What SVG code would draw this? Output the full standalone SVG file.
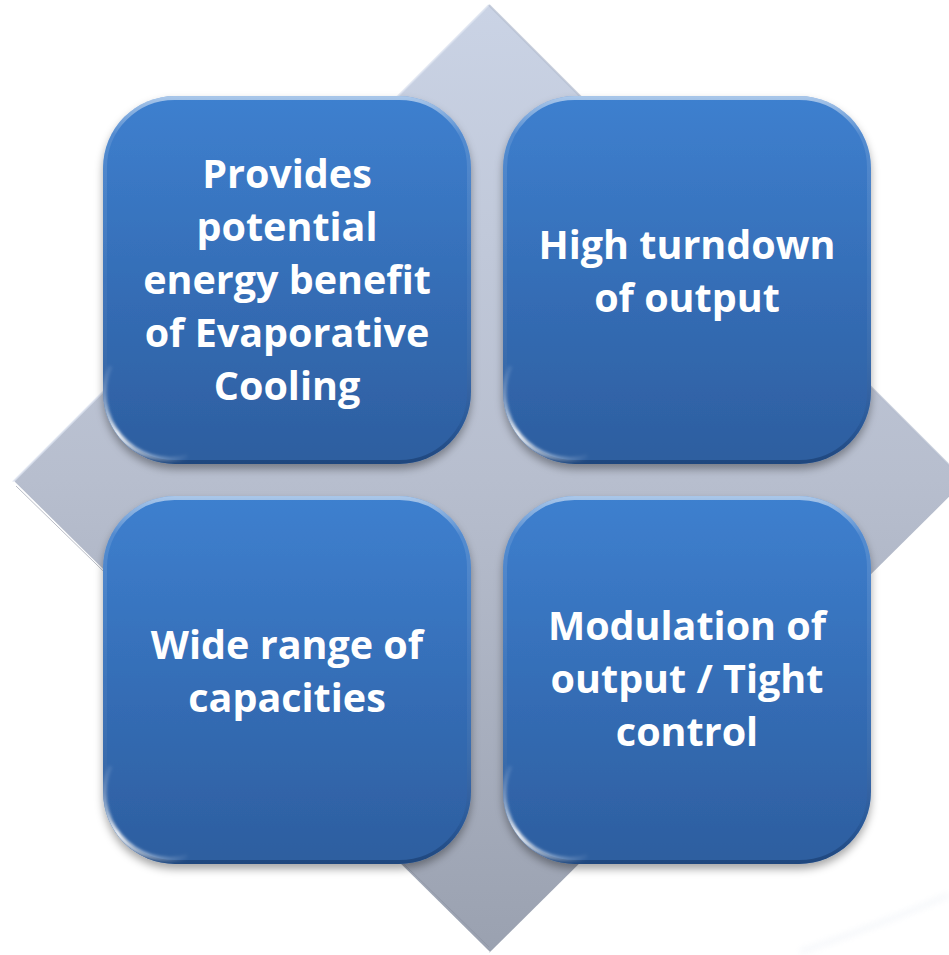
<svg xmlns="http://www.w3.org/2000/svg" xmlns:xlink="http://www.w3.org/1999/xlink" width="949" height="955" viewBox="0 0 949 955">
  <defs>
    <linearGradient id="diamondFill" x1="0" y1="0" x2="0" y2="1">
      <stop offset="0" stop-color="#cad3e5"/>
      <stop offset="0.5" stop-color="#b7bece"/>
      <stop offset="1" stop-color="#9aa1b0"/>
    </linearGradient>
    <linearGradient id="tileFill" x1="0" y1="0" x2="0" y2="1">
      <stop offset="0" stop-color="#3e80cf"/>
      <stop offset="0.5" stop-color="#356eb7"/>
      <stop offset="1" stop-color="#2d5e9f"/>
    </linearGradient>
    <linearGradient id="rimFill" x1="0" y1="0" x2="0" y2="1">
      <stop offset="0" stop-color="#ffffff" stop-opacity="0.55"/>
      <stop offset="0.1" stop-color="#ffffff" stop-opacity="0.12"/>
      <stop offset="0.5" stop-color="#ffffff" stop-opacity="0.05"/>
      <stop offset="0.9" stop-color="#0d2a55" stop-opacity="0.15"/>
      <stop offset="1" stop-color="#0d2a55" stop-opacity="0.45"/>
    </linearGradient>
    <linearGradient id="glareFill" x1="0" y1="0" x2="1" y2="1">
      <stop offset="0" stop-color="#ffffff" stop-opacity="0"/>
      <stop offset="0.45" stop-color="#ffffff" stop-opacity="0.95"/>
      <stop offset="1" stop-color="#ffffff" stop-opacity="0"/>
    </linearGradient>
    <filter id="tileShadow" x="-10%" y="-10%" width="120%" height="125%">
      <feDropShadow dx="0" dy="5" stdDeviation="4" flood-color="#000000" flood-opacity="0.35"/>
    </filter>
    <filter id="soft" x="-20%" y="-20%" width="140%" height="140%">
      <feGaussianBlur stdDeviation="1.6"/>
    </filter>
    <filter id="haze" x="-20%" y="-20%" width="140%" height="140%">
      <feGaussianBlur stdDeviation="3"/>
    </filter>
    <rect id="tile" width="368" height="368" rx="72" ry="72"/>
    <clipPath id="tileClip">
      <rect width="368" height="368" rx="72" ry="72"/>
    </clipPath>
    <!-- inner light rim and bottom-left corner glare, shared by all tiles -->
    <g id="tileBevel">
      <g clip-path="url(#tileClip)">
        <rect x="1.5" y="1.5" width="365" height="365" rx="70" ry="70" fill="none" stroke="url(#rimFill)" stroke-width="5"/>
        <path d="M7,270 A66,66 0 0 0 85,361" fill="none" stroke="url(#glareFill)" stroke-width="5" filter="url(#soft)"/>
      </g>
    </g>
    <style>
      .tile { fill: url(#tileFill); filter: url(#tileShadow); }
      .label { font-family: "Open Sans", Lato, "Liberation Sans", sans-serif; font-weight: 700; font-size: 39.5px; fill: #ffffff; text-anchor: middle; font-variant-ligatures: none; }
    </style>
  </defs>

  <!-- background diamond -->
  <g id="diamond">
    <polygon points="489,5 965,481 489,953 13,482" fill="url(#diamondFill)"/>
    <polyline points="489,5 13,482" fill="none" stroke="#d9e0ee" stroke-width="2" opacity="0.7"/>
    <polyline points="13,482 489,953" fill="none" stroke="#ffffff" stroke-width="3"/>
    <polyline points="16,486 489,947" fill="none" stroke="#8a91a0" stroke-width="1" opacity="0.6"/>
    <polyline points="489,5 965,481" fill="none" stroke="#b3bccf" stroke-width="2" opacity="0.7"/>
  </g>

  <!-- faint floor reflection, lower right -->
  <path d="M800,952 Q880,925 949,895" fill="none" stroke="#e8edf4" stroke-width="5" opacity="0.45" filter="url(#haze)"/>

  <g id="node-energy" transform="translate(103,96)">
    <use xlink:href="#tile" class="tile"/>
    <use xlink:href="#tileBevel"/>
    <text class="label" x="184" y="92">Provides</text>
    <text class="label" x="184" y="145">potential</text>
    <text class="label" x="184" y="198">energy benefit</text>
    <text class="label" x="184" y="251">of Evaporative</text>
    <text class="label" x="184" y="304">Cooling</text>
  </g>

  <g id="node-turndown" transform="translate(503,96)">
    <use xlink:href="#tile" class="tile"/>
    <use xlink:href="#tileBevel"/>
    <text class="label" x="184" y="163">High turndown</text>
    <text class="label" x="184" y="216">of output</text>
  </g>

  <g id="node-capacities" transform="translate(103,496)">
    <use xlink:href="#tile" class="tile"/>
    <use xlink:href="#tileBevel"/>
    <text class="label" x="184" y="163">Wide range of</text>
    <text class="label" x="184" y="216">capacities</text>
  </g>

  <g id="node-modulation" transform="translate(503,496)">
    <use xlink:href="#tile" class="tile"/>
    <use xlink:href="#tileBevel"/>
    <text class="label" x="184" y="144">Modulation of</text>
    <text class="label" x="184" y="197">output / Tight</text>
    <text class="label" x="184" y="250">control</text>
  </g>

  <g id="connectors"/>
</svg>
